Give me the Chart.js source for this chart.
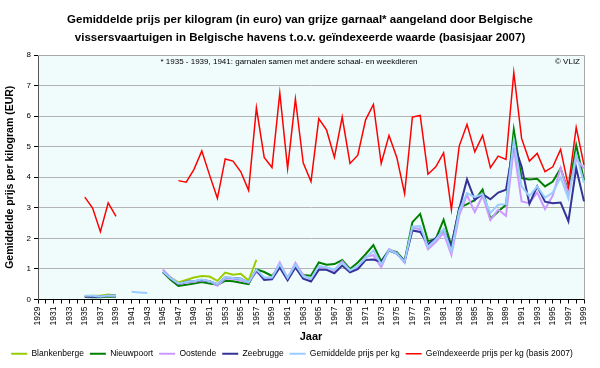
<!DOCTYPE html>
<html><head><meta charset="utf-8">
<script src="https://cdn.jsdelivr.net/npm/chart.js@4/dist/chart.umd.min.js"></script>
<style>html,body{margin:0;padding:0;background:#fff}#wrap{width:600px;height:368px}</style>
</head><body><div id="wrap"><canvas id="c" width="600" height="368"></canvas></div>
<script>
const years = [1929,1930,1931,1932,1933,1934,1935,1936,1937,1938,1939,1940,1941,1942,1943,1944,1945,1946,1947,1948,1949,1950,1951,1952,1953,1954,1955,1956,1957,1958,1959,1960,1961,1962,1963,1964,1965,1966,1967,1968,1969,1970,1971,1972,1973,1974,1975,1976,1977,1978,1979,1980,1981,1982,1983,1984,1985,1986,1987,1988,1989,1990,1991,1992,1993,1994,1995,1996,1997,1998,1999];

const blankenberge1935 = [0.10,0.12,0.12,0.16,0.12];
const blankenberge1945 = [0.90,0.72,0.56,0.64,0.72,0.77,0.75,0.61,0.88,0.81,0.84,0.62,1.30];

const nieuwpoort1935 = [0.08,0.07,0.07,0.10,0.08];
const nieuwpoort1945 = [0.90,0.65,0.44,0.48,0.52,0.57,0.52,0.48,0.61,0.60,
  0.55,0.50,0.99,0.90,0.77,1.08,0.72,1.08,0.80,0.78,
  1.21,1.14,1.16,1.29,1.00,1.21,1.48,1.78,1.25,1.62,
  1.55,1.26,2.53,2.80,1.91,1.98,2.61,1.75,3.00,3.12,
  3.25,3.60,2.64,2.88,3.10,5.55,3.97,3.93,3.95,3.70,
  3.86,4.29,3.53,5.05,3.90];

const oostende1935 = [0.10,0.10,0.10,0.12,0.10];
const oostende1945 = [0.98,0.72,0.52,0.55,0.58,0.62,0.60,0.45,0.68,0.68,
  0.62,0.55,0.90,0.70,0.72,1.21,0.70,1.20,0.80,0.65,
  1.05,1.05,0.95,1.25,0.95,1.05,1.40,1.45,1.05,1.65,
  1.52,1.20,2.35,2.30,1.64,1.88,2.18,1.46,2.75,3.42,
  2.86,3.40,2.60,2.94,2.74,4.95,3.21,3.15,3.50,2.96,
  3.40,4.30,3.45,4.60,4.29];

const zeebrugge1935 = [0.10,0.09,0.10,0.12,0.13];
const zeebrugge1945 = [0.90,0.70,0.50,0.58,0.60,0.64,0.60,0.50,0.72,0.70,
  0.68,0.55,0.95,0.64,0.66,1.05,0.63,1.05,0.68,0.59,
  0.97,0.97,0.86,1.11,0.89,0.99,1.29,1.31,1.23,1.60,
  1.50,1.26,2.26,2.21,1.81,2.01,2.28,1.75,2.96,3.93,
  3.26,3.45,3.28,3.50,3.59,5.10,4.35,3.13,3.70,3.20,
  3.15,3.17,2.56,4.30,3.21];

const gemiddelde1935 = [0.12,0.12,0.10,0.13,0.12];
const gemiddelde1941 = [0.25,0.23,0.21];
const gemiddelde1945 = [0.92,0.70,0.52,0.57,0.60,0.65,0.60,0.50,0.72,0.70,
  0.67,0.56,0.98,0.72,0.72,1.15,0.70,1.14,0.76,0.68,
  1.10,1.05,0.98,1.20,0.95,1.10,1.35,1.60,1.15,1.62,
  1.50,1.24,2.38,2.40,1.72,1.96,2.30,1.57,2.90,3.48,
  3.35,3.45,2.83,3.10,3.12,5.20,3.70,3.38,3.70,3.33,
  3.50,4.00,3.30,4.75,3.82];

const geindexeerd1935 = [3.35,2.99,2.22,3.16,2.72];
const geindexeerd1947 = [3.89,3.84,4.26,4.86,4.07,3.31,4.60,4.53,4.18,3.57,
  6.27,4.65,4.32,6.76,4.29,6.56,4.47,3.86,5.92,5.54,
  4.65,5.97,4.45,4.72,5.88,6.38,4.45,5.37,4.65,3.46,
  5.97,6.02,4.10,4.34,4.80,2.94,5.02,5.73,4.83,5.37,
  4.31,4.69,4.58,7.43,5.27,4.53,4.78,4.18,4.34,4.91,
  3.70,5.63,4.40];

const yTicks = [0,1,2,3,4,5,6,7,8];

// place segments (start year + values) on the full year axis, gaps stay null
function onYears(...segments){
  const out = years.map(() => null);
  segments.forEach(([start, vals]) => vals.forEach((v,i) => { out[years.indexOf(start)+i] = v; }));
  return out;
}

const titleLines = ['Gemiddelde prijs per kilogram (in euro) van grijze garnaal* aangeland door Belgische',
                    'vissersvaartuigen in Belgische havens t.o.v. ge\u00efndexeerde waarde (basisjaar 2007)'];
const noteText = '* 1935 - 1939, 1941: garnalen samen met andere schaal- en weekdieren';
const creditText = '\u00a9 VLIZ';

const FONT = "'Liberation Sans', Arial, sans-serif";

const decor = {
  id: 'decor',
  beforeDraw(chart){
    const {ctx, chartArea: a} = chart;
    ctx.save();
    ctx.fillStyle = '#f0fcfc';
    ctx.fillRect(a.left, a.top, a.right - a.left, a.bottom - a.top);
    ctx.restore();
  },
  beforeDatasetsDraw(chart){
    const {ctx, chartArea: a} = chart;
    ctx.save();
    ctx.strokeStyle = '#a8a8a8';
    ctx.lineWidth = 1;
    ctx.beginPath();
    ctx.moveTo(a.left, a.top + 0.5); ctx.lineTo(a.right + 0.5, a.top + 0.5);
    ctx.lineTo(a.right + 0.5, a.bottom);
    ctx.stroke();
    ctx.fillStyle = '#000';
    ctx.font = '8px ' + FONT;
    ctx.textBaseline = 'middle';
    ctx.textAlign = 'center';
    ctx.fillText(noteText, 289, a.top + 7);
    ctx.textAlign = 'right';
    ctx.fillText(creditText, a.right - 4, a.top + 7);
    ctx.restore();
  },
  afterDraw(chart){
    const {ctx} = chart;
    ctx.save();
    ctx.fillStyle = '#000';
    ctx.font = 'bold 11.5px ' + FONT;
    ctx.textAlign = 'center';
    ctx.textBaseline = 'middle';
    ctx.fillText(titleLines[0], 300, 20);
    ctx.fillText(titleLines[1], 300, 38);
    ctx.restore();
  }
};

function ds(label, data, color, width, order){
  return {label, data, borderColor: color, backgroundColor: color, borderWidth: width,
          pointRadius: 0, pointHoverRadius: 0, tension: 0, spanGaps: false, order};
}

new Chart(document.getElementById('c'), {
  type: 'line',
  data: {
    labels: years,
    datasets: [
      ds('Blankenberge', onYears([1935, blankenberge1935],[1945, blankenberge1945]), '#99cc00', 2, 5),
      ds('Nieuwpoort', onYears([1935, nieuwpoort1935],[1945, nieuwpoort1945]), '#008000', 2, 4),
      ds('Oostende', onYears([1935, oostende1935],[1945, oostende1945]), '#cc99ff', 2, 3),
      ds('Zeebrugge', onYears([1935, zeebrugge1935],[1945, zeebrugge1945]), '#333399', 2, 2),
      ds('Gemiddelde prijs per kg', onYears([1935, gemiddelde1935],[1941, gemiddelde1941],[1945, gemiddelde1945]), '#99ccff', 2, 1),
      ds('Ge\u00efndexeerde prijs per kg (basis 2007)', onYears([1935, geindexeerd1935],[1947, geindexeerd1947]), '#ff0000', 1.5, 0)
    ]
  },
  options: {
    responsive: false,
    animation: false,
    events: [],
    layout: {padding: {top: 55, right: 16, bottom: 0, left: 0}},
    plugins: {
      title: {display: false},
      tooltip: {enabled: false},
      legend: {
        position: 'bottom',
        labels: {
          usePointStyle: true, pointStyle: 'line', pointStyleWidth: 16,
          boxHeight: 8, padding: 6, color: '#000',
          font: {family: FONT, size: 8.5},
          sort: (a, b) => a.datasetIndex - b.datasetIndex
        }
      }
    },
    scales: {
      x: {
        offset: false,
        afterFit: s => { s.height = 44; },
        grid: {drawOnChartArea: false, drawTicks: true, tickLength: 4, tickColor: '#000'},
        border: {color: '#000'},
        ticks: {
          autoSkip: false, minRotation: 90, maxRotation: 90, padding: 3, color: '#000',
          font: {family: FONT, size: 8.5},
          callback: function(v, i){ const y = years[i]; return (y - 1929) % 2 === 0 ? String(y) : ''; }
        },
        title: {display: true, text: 'Jaar', color: '#000', font: {family: FONT, size: 11, weight: 'bold'}, padding: {top: 0, bottom: 0}}
      },
      y: {
        min: 0, max: 8,
        afterFit: s => { s.width = 38; },
        afterBuildTicks: s => { s.ticks = yTicks.map(v => ({value: v})); },
        grid: {color: '#b4b4b4', tickColor: '#000', tickLength: 4},
        border: {color: '#555'},
        ticks: {color: '#000', padding: 3, font: {family: FONT, size: 8}},
        title: {display: true, text: 'Gemiddelde prijs per kilogram (EUR)', color: '#000', font: {family: FONT, size: 10.5, weight: 'bold'}, padding: {top: 4, bottom: 0}}
      }
    }
  },
  plugins: [decor]
});
</script>
</body></html>
